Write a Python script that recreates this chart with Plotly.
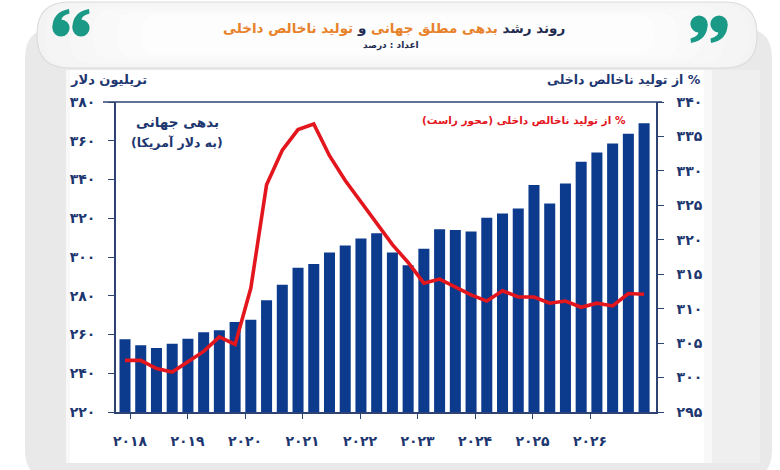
import plotly.graph_objects as go

# ---------------- data ----------------
debt = [257.5, 254.5, 253.0, 255.2, 257.8, 261.2, 262.2, 266.4, 267.6, 277.7,
        285.7, 294.5, 296.4, 302.3, 306.0, 309.6, 312.3, 302.3, 295.7, 304.2,
        314.3, 314.0, 313.1, 320.2, 322.4, 325.0, 337.2, 327.6, 337.9, 349.2,
        354.0, 358.6, 363.6, 369.0]
gdp_pct = [302.5, 302.5, 301.3, 300.8, 302.3, 303.8, 305.9, 304.8, 313.0, 328.0,
           333.0, 336.0, 336.8, 332.2, 328.6, 325.5, 322.6, 319.3, 316.7, 313.7,
           314.3, 313.2, 312.0, 311.1, 312.6, 311.7, 311.7, 310.8, 311.1, 310.2,
           310.8, 310.4, 312.2, 312.1]
year_labels = ["2018", "2019", "2020", "2021", "2022", "2023", "2024", "2025", "2026"]
left_ticks = [220, 240, 260, 280, 300, 320, 340, 360, 380]
right_ticks = [295, 300, 305, 310, 315, 320, 325, 330, 335, 340]

title_parts = [("روند رشد ", "dark"), ("بدهی مطلق جهانی", "orange"),
               (" و ", "dark"), ("تولید ناخالص داخلی", "orange")]
subtitle = "اعداد : درصد"
left_title = "تریلیون دلار"
right_title = "% از تولید ناخالص داخلی"
bar_label_1 = "بدهی جهانی"
bar_label_2 = "(به دلار آمریکا)"
line_label = "% از تولید ناخالص داخلی (محور راست)"

# ---------------- helpers ----------------
FA = str.maketrans("0123456789", "۰۱۲۳۴۵۶۷۸۹")
def fa(v):
    return str(v).translate(FA)

RLM = "\u200f"
NAVY = "#1d3670"
LINEC = "#2e4371"
BAR = "#0c3a8c"
RED = "#e3161e"
ORANGE = "#e8822a"
DARK = "#1e2b4e"
TEAL = "#1a9987"
FONT = "DejaVu Sans"

W, H = 780, 470
PX0, PX1, PY0, PY1 = 116, 656, 102, 412  # plot area in pixels
def X(px):
    return (px - PX0) / (PX1 - PX0)
def Y(py):
    return (PY1 - py) / (PY1 - PY0)

def rrect(x0, y0, x1, y1, r):
    return (f"M {X(x0 + r)},{Y(y0)} L {X(x1 - r)},{Y(y0)} "
            f"Q {X(x1)},{Y(y0)} {X(x1)},{Y(y0 + r)} "
            f"L {X(x1)},{Y(y1 - r)} Q {X(x1)},{Y(y1)} {X(x1 - r)},{Y(y1)} "
            f"L {X(x0 + r)},{Y(y1)} Q {X(x0)},{Y(y1)} {X(x0)},{Y(y1 - r)} "
            f"L {X(x0)},{Y(y0 + r)} Q {X(x0)},{Y(y0)} {X(x0 + r)},{Y(y0)} Z")

def quote_shapes(cx, up):
    r = 8.6
    if up:
        cy = 28
        tail = (f"M {X(cx - r)},{Y(cy)} Q {X(cx - r)},{Y(cy - 16)} {X(cx + 8)},{Y(cy - 19)} "
                f"L {X(cx + 8.5)},{Y(cy - 14.5)} Q {X(cx - 1)},{Y(cy - 12)} {X(cx + 1)},{Y(cy - 7)} Z")
    else:
        cy = 24
        tail = (f"M {X(cx + r)},{Y(cy)} Q {X(cx + r)},{Y(cy + 16)} {X(cx - 8)},{Y(cy + 19)} "
                f"L {X(cx - 8.5)},{Y(cy + 14.5)} Q {X(cx + 1)},{Y(cy + 12)} {X(cx - 1)},{Y(cy + 7)} Z")
    return [
        dict(type="circle", x0=X(cx - r), x1=X(cx + r), y0=Y(cy + r), y1=Y(cy - r),
             fillcolor=TEAL, line=dict(width=0), xref="paper", yref="paper"),
        dict(type="path", path=tail, fillcolor=TEAL, line=dict(width=0),
             xref="paper", yref="paper"),
    ]

n = len(debt)
xs = list(range(n))
step = 15.73
x_lo = (PX0 - 125) / step
x_hi = x_lo + (PX1 - PX0) / step
lab_first, lab_last = (130 - 125) / step, (590 - 125) / step
tickvals_x = [lab_first + i * (lab_last - lab_first) / (len(year_labels) - 1)
              for i in range(len(year_labels))]

fig = go.Figure()
fig.add_trace(go.Bar(x=xs, y=debt, marker=dict(color=BAR, line=dict(width=0)),
                     yaxis="y", showlegend=False, hoverinfo="skip"))
fig.add_trace(go.Scatter(x=xs, y=gdp_pct, mode="lines", line=dict(color=RED, width=3.6),
                         yaxis="y2", showlegend=False, hoverinfo="skip"))

shapes = [
    dict(type="path", path=rrect(25, 28, 772, 480, 30), fillcolor="#e9e9e9",
         line=dict(width=0), xref="paper", yref="paper", layer="below"),
    dict(type="rect", x0=X(706), x1=X(760), y0=Y(463), y1=Y(70), fillcolor="#efefef",
         line=dict(width=0), xref="paper", yref="paper", layer="below"),
    dict(type="rect", x0=X(66), x1=X(712), y0=Y(463), y1=Y(70), fillcolor="#f8f8f8",
         line=dict(width=0), xref="paper", yref="paper", layer="below"),
    dict(type="rect", x0=X(70), x1=X(704), y0=Y(463), y1=Y(70), fillcolor="#ffffff",
         line=dict(width=0), xref="paper", yref="paper", layer="below"),
    dict(type="path", path=rrect(37, 2, 757, 68, 32), fillcolor="#f3f3f3",
         line=dict(color="#dcdcdc", width=1.2), xref="paper", yref="paper", layer="below"),
]
# soft gradient inside the title panel
for i, col in enumerate(["#f5f5f5", "#f7f7f7", "#f9f9f9", "#fbfbfb", "#fdfdfd"]):
    d = 1 + i * 3
    shapes.append(dict(type="path", path=rrect(37 + d * 8, 2 + d, 757 - d * 8, 68 - d, 30 - d),
                       fillcolor=col, line=dict(width=0), xref="paper", yref="paper",
                       layer="below"))
shapes.append(dict(type="line", x0=X(103), x1=X(662), y0=1, y1=1, xref="paper", yref="paper",
                   line=dict(color=LINEC, width=1.6)))
shapes += quote_shapes(61, True) + quote_shapes(81, True)
shapes += quote_shapes(699, False) + quote_shapes(719, False)

title_html = RLM + "".join(
    f"<span style='color:{ORANGE if c == 'orange' else DARK}'>{t}</span>" for t, c in title_parts)

def ann(text, px, py, size, color, xanchor="center"):
    return dict(text=text, x=X(px), y=Y(py), xref="paper", yref="paper", showarrow=False,
                xanchor=xanchor, yanchor="middle",
                font=dict(family=FONT, size=size, color=color, weight="bold"))

annotations = [
    ann(title_html, 394, 28, 13.5, DARK),
    ann(RLM + subtitle + RLM, 391, 45, 9, DARK),
    ann(left_title, 149, 80, 13, NAVY, xanchor="right"),
    ann(RLM + right_title + RLM, 703, 80, 12.5, NAVY, xanchor="right"),
    ann(bar_label_1, 177, 122, 13.5, NAVY),
    ann(RLM + bar_label_2 + RLM, 177, 142, 12.5, NAVY),
    ann(RLM + line_label + RLM, 628, 120, 10.5, RED, xanchor="right"),
]

axis_common = dict(showline=True, linecolor=LINEC, linewidth=1.6, ticks="outside",
                   tickcolor=LINEC, tickwidth=1.4, showgrid=False, zeroline=False,
                   tickfont=dict(size=14, color=NAVY, weight="bold"))

fig.update_layout(
    width=W, height=H,
    margin=dict(l=PX0, r=W - PX1, t=PY0, b=H - PY1, pad=0),
    paper_bgcolor="white", plot_bgcolor="rgba(0,0,0,0)",
    bargap=0.3,
    font=dict(family=FONT, color=NAVY),
    shapes=shapes, annotations=annotations,
    xaxis=dict(range=[x_lo, x_hi], tickvals=tickvals_x, ticktext=[fa(y) for y in year_labels],
               ticklen=5, ticklabelstandoff=10, **axis_common),
    yaxis=dict(range=[220, 380], tickvals=left_ticks, ticktext=[fa(v) for v in left_ticks],
               ticklen=6, ticklabelstandoff=10, **axis_common),
    yaxis2=dict(range=[295, 340], tickvals=right_ticks, ticktext=[fa(v) for v in right_ticks],
                overlaying="y", side="right", ticklen=6, ticklabelstandoff=10, **axis_common),
)

fig.write_html("out.html", config={"displayModeBar": False},
               post_script="document.body.style.margin='0';document.body.style.overflow='hidden';")
